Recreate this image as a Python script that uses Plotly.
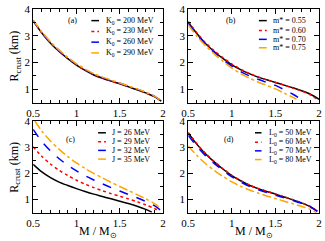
import plotly.graph_objects as go

# ---------------- data ----------------
M_full = [0.5, 0.6, 0.7, 0.8, 0.9, 1.0, 1.1, 1.2, 1.3, 1.4, 1.5, 1.6, 1.7, 1.8, 1.9]

# panel (a): K0 variation
K0_labels = ["K<sub>0</sub> = 200 MeV", "K<sub>0</sub> = 230 MeV",
             "K<sub>0</sub> = 260 MeV", "K<sub>0</sub> = 290 MeV"]
a_M = [M_full + [1.98]] * 4
a_R = [
    [3.55, 3.10, 2.72, 2.41, 2.14, 1.90, 1.70, 1.53, 1.41, 1.30, 1.20, 1.09, 0.98, 0.86, 0.72, 0.55],
    [3.56, 3.11, 2.73, 2.42, 2.15, 1.91, 1.71, 1.55, 1.42, 1.31, 1.21, 1.10, 0.99, 0.87, 0.73, 0.55],
    [3.57, 3.12, 2.75, 2.44, 2.17, 1.93, 1.73, 1.56, 1.43, 1.32, 1.22, 1.11, 1.00, 0.88, 0.74, 0.55],
    [3.58, 3.14, 2.77, 2.46, 2.19, 1.95, 1.75, 1.58, 1.45, 1.34, 1.23, 1.12, 1.01, 0.89, 0.74, 0.55],
]

# panel (b): m* variation
m_labels = ["m* = 0.55", "m* = 0.60", "m* = 0.70", "m* = 0.75"]
b_M = [
    M_full + [2.0],
    M_full + [1.99],
    M_full[:14] + [1.82],
    M_full[:12] + [1.74],
]
b_R = [
    [3.50, 3.07, 2.70, 2.40, 2.14, 1.91, 1.73, 1.58, 1.45, 1.35, 1.25, 1.15, 1.05, 0.94, 0.81, 0.62],
    [3.53, 3.10, 2.73, 2.43, 2.17, 1.94, 1.75, 1.59, 1.46, 1.35, 1.25, 1.15, 1.04, 0.93, 0.79, 0.58],
    [3.47, 3.04, 2.67, 2.37, 2.10, 1.86, 1.66, 1.50, 1.37, 1.25, 1.14, 0.98, 0.81, 0.60, 0.52],
    [3.40, 2.98, 2.62, 2.31, 2.04, 1.79, 1.58, 1.41, 1.27, 1.14, 1.01, 0.85, 0.63, 0.52],
]

# panel (c): J variation
J_labels = ["J = 26 MeV", "J = 29 MeV", "J = 32 MeV", "J = 35 MeV"]
c_M = [
    M_full[:14] + [1.87],
    M_full + [1.96],
    M_full + [1.97],
    [0.52] + M_full[1:] + [1.98],
]
c_R = [
    [2.35, 2.06, 1.84, 1.67, 1.54, 1.42, 1.31, 1.21, 1.12, 1.03, 0.94, 0.85, 0.75, 0.63, 0.52],
    [3.02, 2.65, 2.36, 2.12, 1.92, 1.74, 1.59, 1.46, 1.34, 1.23, 1.13, 1.03, 0.92, 0.80, 0.66, 0.56],
    [3.68, 3.22, 2.86, 2.56, 2.31, 2.10, 1.91, 1.75, 1.60, 1.46, 1.33, 1.20, 1.07, 0.93, 0.77, 0.60],
    [4.00, 3.62, 3.24, 2.92, 2.64, 2.40, 2.19, 2.00, 1.83, 1.66, 1.50, 1.35, 1.19, 1.03, 0.85, 0.65],
]

# panel (d): L0 variation
L_labels = ["L<sub>0</sub> = 50 MeV", "L<sub>0</sub> = 60 MeV",
            "L<sub>0</sub> = 70 MeV", "L<sub>0</sub> = 80 MeV"]
d_M = [M_full + [1.98], M_full + [1.98], M_full + [1.98], M_full + [1.97]]
d_R = [
    [3.55, 3.11, 2.74, 2.43, 2.16, 1.92, 1.72, 1.55, 1.42, 1.31, 1.21, 1.10, 0.99, 0.87, 0.73, 0.55],
    [3.57, 3.13, 2.76, 2.45, 2.18, 1.93, 1.73, 1.56, 1.43, 1.32, 1.22, 1.11, 1.00, 0.88, 0.74, 0.56],
    [3.45, 3.03, 2.67, 2.37, 2.11, 1.87, 1.67, 1.51, 1.38, 1.27, 1.17, 1.07, 0.97, 0.86, 0.72, 0.55],
    [3.05, 2.68, 2.37, 2.11, 1.88, 1.68, 1.51, 1.37, 1.25, 1.14, 1.04, 0.94, 0.84, 0.74, 0.63, 0.50],
]

panel_tags = ["(a)", "(b)", "(c)", "(d)"]
x_ticks = [0.5, 1, 1.5, 2]
x_ticktext = ["0.5", "1", "1.5", "2"]
y_ticks = [1, 2, 3, 4]
y_ticktext = ["1", "2", "3", "4"]

# ---------------- style ----------------
colors = ["#000000", "#ff0000", "#0000ff", "#ffa500"]
dashes = ["solid", "dot", "dash", "dashdot"]
FONT = "Liberation Serif"
W, H = 325, 241

xdom = {"L": [27 / W, 161 / W], "R": [187 / W, 322 / W]}
ydom = {"T": [1 - 99 / H, 1 - 3 / H], "B": [1 - 212 / H, 1 - 118 / H]}

panels = [
    dict(M=a_M, R=a_R, labels=K0_labels, xd="L", yd="T",
         samp=(0.448, 0.507), txt=0.545, rows=[0.875, 0.76, 0.645, 0.53],
         tag=(0.306, 0.875)),
    dict(M=b_M, R=b_R, labels=m_labels, xd="R", yd="T",
         samp=(0.54, 0.60), txt=0.635, rows=[0.875, 0.77, 0.675, 0.585],
         tag=(0.33, 0.875)),
    dict(M=c_M, R=c_R, labels=J_labels, xd="L", yd="B",
         samp=(0.50, 0.56), txt=0.59, rows=[0.872, 0.775, 0.68, 0.585],
         tag=(0.29, 0.8)),
    dict(M=d_M, R=d_R, labels=L_labels, xd="R", yd="B",
         samp=(0.51, 0.56), txt=0.60, rows=[0.872, 0.77, 0.675, 0.58],
         tag=(0.31, 0.8)),
]

fig = go.Figure()
annotations = []
shapes = []

for i, p in enumerate(panels):
    n = "" if i == 0 else str(i + 1)
    xa, ya = "x" + n, "y" + n
    for k in range(4):
        fig.add_trace(go.Scatter(
            x=p["M"][k], y=p["R"][k], mode="lines", xaxis=xa, yaxis=ya,
            line=dict(color=colors[k], dash=dashes[k], width=1.5,
                      shape="spline", smoothing=0.8),
            showlegend=False, hoverinfo="skip"))
        yy = p["rows"][k]
        shapes.append(dict(type="line", xref=xa + " domain", yref=ya + " domain",
                           x0=p["samp"][0], x1=p["samp"][1], y0=yy, y1=yy,
                           line=dict(color=colors[k], dash=dashes[k], width=1.5)))
        annotations.append(dict(text=p["labels"][k], xref=xa + " domain",
                                yref=ya + " domain", x=p["txt"], y=yy,
                                xanchor="left", yanchor="middle", showarrow=False,
                                font=dict(family=FONT, size=8, color="black")))
    annotations.append(dict(text=panel_tags[i], xref=xa + " domain", yref=ya + " domain",
                            x=p["tag"][0], y=p["tag"][1], xanchor="center",
                            yanchor="middle", showarrow=False,
                            font=dict(family=FONT, size=8, color="black")))
    common = dict(showline=True, linecolor="black", linewidth=1, mirror="allticks",
                  ticks="inside", ticklen=5, tickcolor="black", showgrid=False,
                  zeroline=False, tickfont=dict(family=FONT, size=11, color="black"))
    fig.layout["xaxis" + n] = dict(
        domain=xdom[p["xd"]], range=[0.5, 2], anchor=ya,
        tickvals=x_ticks, ticktext=x_ticktext, ticklabelstandoff=0,
        minor=dict(dtick=0.1, ticks="inside", ticklen=3, tickcolor="black"),
        **common)
    fig.layout["yaxis" + n] = dict(
        domain=ydom[p["yd"]], range=[0.5, 4], anchor=xa,
        tickvals=y_ticks, ticktext=y_ticktext,
        minor=dict(dtick=0.5, tick0=0.5, ticks="inside", ticklen=3, tickcolor="black"),
        **common)

# axis titles
for yd in ["T", "B"]:
    annotations.append(dict(text="R<sub>crust</sub> (km)", xref="paper", yref="paper",
                            x=8 / W, y=sum(ydom[yd]) / 2, textangle=-90,
                            xanchor="center", yanchor="middle", showarrow=False,
                            font=dict(family=FONT, size=12, color="black")))
for xd in ["L", "R"]:
    annotations.append(dict(text="M / M<sub>⊙</sub>", xref="paper", yref="paper",
                            x=sum(xdom[xd]) / 2, y=1 - 232 / H,
                            xanchor="center", yanchor="middle", showarrow=False,
                            font=dict(family=FONT, size=12, color="black")))

fig.update_layout(width=W, height=H, margin=dict(l=0, r=0, t=0, b=0),
                  paper_bgcolor="white", plot_bgcolor="white", hovermode=False,
                  annotations=annotations, shapes=shapes, showlegend=False)

fig.write_html("out.html", config={"displayModeBar": False, "staticPlot": True},
               post_script="document.body.style.margin='0px';")
